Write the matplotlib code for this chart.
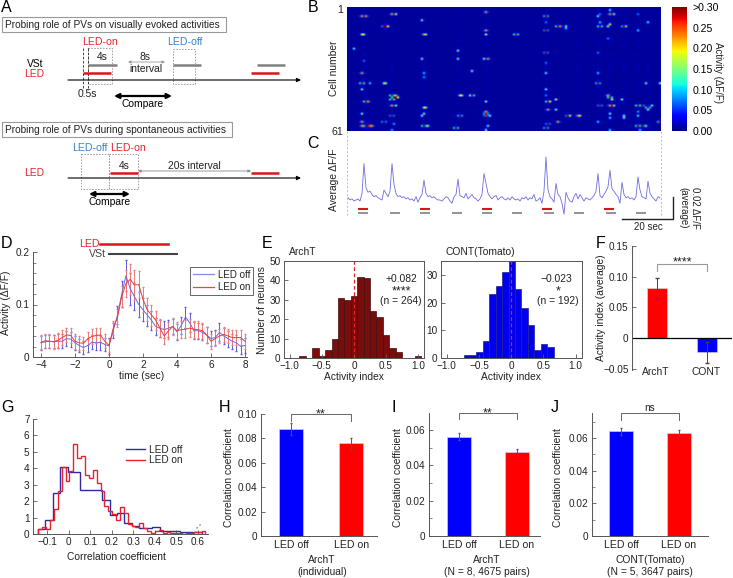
import numpy as np
import matplotlib
matplotlib.use("Agg")
import matplotlib.pyplot as plt
from matplotlib.patches import Rectangle

W, H = 733, 578

plt.rcParams['font.family'] = ['Liberation Sans', 'DejaVu Sans']
plt.rcParams['font.size'] = 7.2
plt.rcParams['axes.unicode_minus'] = True
plt.rcParams['text.color'] = '#222222'
plt.rcParams['axes.edgecolor'] = '#555555'
plt.rcParams['axes.linewidth'] = 0.7

BLUE = '#0000ff'
RED = '#ff0000'
SCHEME_RED = '#e8232a'
SCHEME_BLUE = '#3b82c4'
GRAY = '#808080'

# B: sparse activity map, (column, row, dF/F), everything else stays at background
heat_background = 0.008
hot_spots = [
    (7, 4, .15), (9, 4, .15), (22, 3, .15), (24, 3, .12), (18, 9, .2), (19, 9, .3), (20, 9, .12),
    (7, 13, .12), (8, 13, .1), (38, 13, .15), (39, 13, .1), (37, 6, .1), (69, 2, .15), (69, 11, .15),
    (69, 13, .12), (3, 20, .08), (55, 21, .1), (37, 25, .1), (55, 25, .1), (68, 25, .1), (70, 25, .15),
    (8, 26, .05), (7, 32, .15), (62, 31, .1), (38, 32, .07), (38, 34, .06), (7, 37, .3), (11, 37, .07),
    (18, 37, .12), (19, 37, .1), (7, 40, .1), (22, 43, .3), (23, 44, .3), (24, 44, .2), (25, 44, .12),
    (22, 45, .3), (24, 43, .15), (56, 43, .13), (57, 43, .1), (62, 43, .3), (61, 43, .1), (9, 46, .3),
    (10, 46, .15), (69, 46, .1), (22, 48, .15), (24, 48, .1), (38, 49, .12), (39, 49, .1), (7, 52, .1),
    (22, 53, .2), (38, 52, .1), (37, 53, .1), (56, 53, .25), (69, 51, .15), (69, 52, .25), (69, 53, .18),
    (71, 53, .1), (7, 56, .15), (7, 58, .15), (9, 58, .3), (10, 58, .3), (11, 58, .15), (12, 58, .15),
    (17, 56, .05), (19, 56, .05), (23, 57, .06), (38, 58, .3), (40, 58, .12), (54, 59, .3), (70, 58, .1),
    (22, 60, .06), (69, 60, .1),
    (99, 4, .25), (99, 7, .05), (99, 11, .2), (105, 9, .3), (106, 9, .15), (109, 9, .1), (109, 10, .07),
    (84, 13, .3), (99, 22, .2), (99, 27, .05), (99, 32, .1), (99, 40, .1), (99, 43, .05), (100, 46, .3),
    (101, 46, .12), (104, 45, .12), (100, 50, .15), (104, 50, .1), (110, 53, .2), (111, 53, .12),
    (115, 53, .15), (116, 53, .12), (105, 56, .15), (100, 57, .2), (99, 59, .25), (126, 3, .05),
    (125, 4, .1), (131, 1, .08), (131, 3, .15), (133, 3, .1), (126, 7, .07), (126, 9, .3), (130, 9, .12),
    (131, 8, .12), (138, 9, .25), (139, 9, .1), (145, 3, .05), (150, 7, .08), (145, 11, .07), (125, 22, .05),
    (130, 15, .05), (125, 32, .07), (125, 37, .25), (149, 37, .1), (156, 37, .1), (131, 44, .3), (130, 43, .15),
    (132, 45, .12), (137, 45, .1), (126, 48, .2), (131, 48, .15), (132, 48, .25), (133, 48, .1), (145, 48, .3),
    (147, 48, .2), (150, 49, .28), (152, 48, .1), (150, 50, .1), (138, 53, .1), (138, 54, .1), (131, 52, .1),
    (131, 54, .07), (145, 53, .08), (145, 51, .06), (125, 56, .07), (156, 56, .28), (145, 58, .3),
    (147, 58, .2), (149, 58, .1), (146, 60, .07), (131, 60, .07),
]
# faint blue flecks along the strongly driven frames
faint_cols = [8, 22, 38, 55, 69, 99, 115, 125, 131, 138, 145, 150]
faint_rows = [1, 6, 10, 16, 19, 23, 28, 30, 35, 39, 42, 47, 51, 55, 59]
faint_val = 0.022
cbar_ticks = [0.0, 0.05, 0.10, 0.15, 0.20, 0.25, 0.30]
cbar_labels = ['0.00', '0.05', '0.10', '0.15', '0.20', '0.25', '>0.30']

# C: population average, in 0.001 dF/F per frame
trace_milli = [
    2, 0, 1, -1, 0, 1, -1, 6, 33, 11, 7, 8, 5, 3, 4, 2, 1, 0, 9, 6,
    3, 8, 33, 14, 6, 3, 4, 2, 3, 1, 2, 0, 1, -1, 3, -2, 2, 5, 18, 6,
    3, 4, 2, 3, 1, 0, 0, -1, 1, 3, 2, -1, -3, 3, 5, 19, 4, 3, 2, 6,
    1, 3, 5, 2, 1, -1, 1, 5, 24, 15, 6, 3, 1, 3, 4, 0, 2, 3, 1, 0,
    2, 0, 3, 1, 0, 1, -1, 2, 1, 3, 0, 2, 1, 5, -1, 0, 2, -3, 8, 39,
    9, 3, 1, -2, 15, 5, 3, -3, -13, 7, 2, -1, -2, 3, 6, 1, 5, 2, -1, 2,
    1, 0, 2, 4, 8, 24, 4, 2, 5, 8, 12, 27, 10, 8, 5, 3, -3, 16, 5, 2,
    3, 1, 2, 0, 3, 21, 9, 3, 2, 1, 17, 6, 3, 1, -1, 3, 2,
]
led_frames = [5, 36, 67, 97, 128]
vst_frames = [5, 21, 36, 52, 67, 82, 98, 113, 129, 144]
stim_len = 5

# D
led_off = [.027, .029, .03, .029, .03, .03, .035, .034, .027, .022, .018, .022, .028, .027, .028, .024, .021,
           .05, .08, .12, .155, .13, .115, .1, .09, .08, .07, .058, .055, .052, .055, .058, .048, .06, .076,
           .065, .05, .05, .047, .042, .035, .037, .047, .04, .035, .03, .027, .02, .022]
led_off_err = [.013, .012, .012, .012, .013, .013, .014, .014, .013, .012, .012, .013, .013, .014, .014, .013, .015,
               .014, .018, .024, .03, .03, .026, .024, .022, .02, .018, .017, .016, .016, .016, .015, .015, .017, .02,
               .018, .016, .015, .015, .015, .014, .015, .017, .015, .015, .014, .015, .015, .014]
led_on = [.028, .031, .03, .029, .032, .037, .042, .041, .03, .027, .026, .035, .039, .041, .042, .03, .022,
          .055, .075, .115, .14, .148, .137, .138, .11, .09, .08, .07, .055, .04, .05, .058, .05, .052, .053,
          .055, .053, .052, .05, .042, .03, .035, .04, .043, .04, .037, .037, .037, .03]
led_on_err = [.013, .013, .013, .013, .014, .014, .014, .014, .014, .013, .013, .013, .014, .014, .014, .013, .013,
              .013, .017, .02, .026, .03, .028, .026, .024, .022, .02, .018, .017, .016, .016, .016, .016, .016, .017,
              .017, .016, .016, .015, .015, .014, .014, .014, .014, .014, .015, .015, .015, .014]

# E
arch_centers = [-.8, -.7, -.6, -.5, -.4, -.3, -.2, -.1, 0, .1, .2, .3, .4, .5, .6, .7, .8, .9, 1.0]
arch_counts = [1, 0, 5, 1, 4, 10, 31, 30, 32, 42, 41, 24, 21, 12, 5, 3, 0, 0, 1]
cont_centers = [-.69, -.59, -.49, -.39, -.29, -.19, -.09, .01, .11, .21, .31, .41, .51, .61]
cont_counts = [1, 1, 2, 6, 23, 26, 31, 35, 25, 18, 12, 3, 5, 4]

# F
index_names = ['ArchT', 'CONT']
index_vals = [0.081, -0.023]
index_err = [0.017, 0.017]

# G
on_start, on_step = -0.14, 0.018
on_hist = [.3, .45, .3, .85, 1.5, 2.6, 4.05, 3.2, 3.85, 5.45, 4.65, 4.75, 3.6, 3.4, 3.9, 3.1, 2.6, 1.7, 1.4, 1.2,
           .85, 1.65, 1.3, .6, .5, .45, .7, .35, .2, .05, .2, .25, .05, .1, .05, .05, .05, .02, .05, .05, .1, .1, .2]
off_edges = [-.142, -.108, -.074, -.038, -.005, .054, .155, .193, .224, .255, .294, .327, .386, .425, .517, .62]
off_hist = [.3, .85, 2.5, 4.05, 3.75, 2.65, 2.1, 1.15, 1.3, .65, .5, .35, .45, .2, .1]

# H, I, J
corr_names = ['LED off', 'LED on']
h_vals, h_err = [0.088, 0.076], [0.005, 0.0045]
i_vals, i_err = [0.0563, 0.0475], [0.002, 0.0018]
j_vals, j_err = [0.064, 0.063], [0.0022, 0.002]


def px_axes(fig, left, top, right, bottom):
    return fig.add_axes([left / W, 1 - bottom / H, (right - left) / W, (bottom - top) / H])


def style(ax, box=False):
    ax.tick_params(which='both', direction='in', colors='#555555', labelcolor='#222222', pad=2.5)
    ax.tick_params(which='major', length=3, width=0.6, labelsize=7.2)
    ax.tick_params(which='minor', length=1.8, width=0.5)
    ax.spines['top'].set_visible(box)
    ax.spines['right'].set_visible(box)


def corr_bars(ax, vals, errs, xlim, ylim, yticks, minor, labels, fmt, bracket, sig):
    ax.bar([0.5, 1.5], vals, width=0.41, color=[BLUE, RED], edgecolor='#c9c9ee', linewidth=0.5)
    ax.errorbar([0.5, 1.5], vals, yerr=errs, fmt='none', ecolor='#555555', elinewidth=0.7, capsize=1)
    ax.set_xlim(*xlim)
    ax.set_ylim(*ylim)
    ax.set_xticks([0.5, 1.5])
    ax.set_xticklabels(labels)
    ax.set_yticks(yticks)
    ax.set_yticklabels(fmt)
    ax.set_yticks(minor, minor=True)
    style(ax)
    ax.tick_params(axis='x', length=0, pad=3, labelsize=7.6)
    top, low = bracket
    ax.plot([0.5, 0.5, 1.5, 1.5], [low, top, top, low], color='#666666', lw=0.7, clip_on=False)
    ax.text(1.0, top, sig, ha='center', va='bottom' if sig == 'ns' else 'center',
            fontsize=7.2 if sig == 'ns' else 9, clip_on=False)


def build_heat():
    heat = np.full((61, 157), heat_background)
    for col in faint_cols:
        for row in faint_rows:
            heat[row, col] = faint_val
    # core pushed up because the bilinear resampling flattens single cells
    for col, row, val in hot_spots:
        for dc, dr, frac in [(0, 0, 1.5), (-1, 0, .35), (1, 0, .35), (0, -1, .12), (0, 1, .12)]:
            c, r = col + dc, row + dr
            if 0 <= c < 157 and 0 <= r < 61:
                heat[r, c] = max(heat[r, c], val * frac)
    return heat


def main():
    fig = plt.figure(figsize=(W / 100, H / 100), dpi=100)

    # B
    ax_b = px_axes(fig, 347, 7, 661, 131)
    im = ax_b.imshow(build_heat(), cmap='jet', vmin=0, vmax=0.3, aspect='auto', interpolation='bilinear')
    ax_b.set_xticks([])
    ax_b.set_yticks([])
    for s in ax_b.spines.values():
        s.set_visible(False)

    cax = px_axes(fig, 672, 7, 687, 131)
    cb = fig.colorbar(im, cax=cax)
    cb.set_ticks(cbar_ticks)
    cb.set_ticklabels(cbar_labels)
    cb.ax.tick_params(length=0, labelsize=7.6, pad=4)
    cb.outline.set_visible(False)

    # C
    ax_c = px_axes(fig, 347, 131, 661, 219)
    ax_c.plot(range(len(trace_milli)), trace_milli, color='#6c6ce4', lw=0.6)
    ax_c.hlines([-8] * len(led_frames), led_frames, [f + stim_len for f in led_frames],
                color='#d8141c', lw=1.5)
    ax_c.hlines([-12] * len(vst_frames), vst_frames, [f + stim_len for f in vst_frames],
                color=GRAY, lw=1.2)
    ax_c.set_xlim(-0.5, 156.5)
    ax_c.set_ylim(-17.3, 62.7)
    ax_c.axvline(-0.5, color='#bbbbbb', lw=0.7, ls=(0, (2, 2)), ymin=0.05, clip_on=False)
    ax_c.axvline(156.5, color='#bbbbbb', lw=0.7, ls=(0, (2, 2)), ymin=0.05, clip_on=False)
    ax_c.axis('off')

    # D
    ax_d = px_axes(fig, 33, 252, 247, 357)
    t = -4 + 0.25 * np.arange(len(led_on))
    ax_d.errorbar(t, led_off, yerr=led_off_err, color='#6a6ae6', ecolor='#5a5ae0', lw=0.7,
                  elinewidth=0.7, capsize=0.7)
    ax_d.errorbar(t, led_on, yerr=led_on_err, color='#ee3b3b', ecolor='#f07878', lw=0.7,
                  elinewidth=0.7, capsize=0.7)
    ax_d.set_xlim(-4.47, 8.12)
    ax_d.set_ylim(0, 0.2)
    ax_d.set_xticks([-4, -2, 0, 2, 4, 6, 8])
    ax_d.set_yticks([0, 0.1, 0.2])
    ax_d.set_yticklabels(['0', '0.1', '0.2'])
    ax_d.set_yticks(np.arange(0, 0.2, 0.02), minor=True)
    style(ax_d)
    ax_d.plot([-0.5, 3.5], [0.215, 0.215], color='#d8141c', lw=1.8, clip_on=False)
    ax_d.plot([0, 4], [0.196, 0.196], color='#444444', lw=1.5, clip_on=False)
    ax_d.text(-0.55, 0.215, 'LED', color=SCHEME_RED, ha='right', va='center', fontsize=7.6)
    ax_d.text(-0.15, 0.196, 'VSt', color='#444444', ha='right', va='center', fontsize=7.6)
    leg = ax_d.legend(handles=[plt.Line2D([], [], color='#8a8aee', lw=0.9), plt.Line2D([], [], color='#ee4444', lw=0.9)],
                      labels=['LED off', 'LED on'], loc='upper left', bbox_to_anchor=(157 / 214, 0.86),
                      borderaxespad=0, frameon=True, fancybox=False, edgecolor='#666666', framealpha=1,
                      fontsize=7, handlelength=2.2, labelspacing=0.25, borderpad=0.3, handletextpad=0.4)
    leg.get_frame().set_linewidth(0.7)

    # E
    ax_e1 = px_axes(fig, 284, 261, 424, 358)
    ax_e1.bar(arch_centers, arch_counts, width=0.1, color='#7a0c0c', edgecolor='#3a1010', linewidth=0.5)
    ax_e1.set_xlim(-1.09, 1.09)
    ax_e1.set_ylim(0, 50)
    ax_e1.set_yticks([0, 10, 20, 30, 40, 50])
    ax_e2 = px_axes(fig, 441, 261, 582, 358)
    ax_e2.bar(cont_centers, cont_counts, width=0.1, color='#0000ee', edgecolor='#202090', linewidth=0.5)
    ax_e2.set_xlim(-1.09, 1.1)
    ax_e2.set_ylim(0, 35)
    ax_e2.set_yticks([0, 10, 20, 30])
    for a in (ax_e1, ax_e2):
        a.axvline(0, color='#e8232a', lw=0.9, ls=(0, (3, 2)))
        a.set_xticks([-1, -0.5, 0, 0.5, 1])
        a.set_xticklabels(['−1.0', '−0.5', '0', '0.5', '1.0'])
        style(a, box=True)

    # F
    ax_f = px_axes(fig, 632, 246, 732, 370)
    ax_f.bar([0.5, 1.5], index_vals, width=0.4, color=[RED, BLUE], edgecolor='#d8d8f0', linewidth=0.4)
    ax_f.errorbar([0.5, 1.5], index_vals, yerr=index_err, fmt='none', ecolor='#444444', elinewidth=0.7, capsize=1.5)
    ax_f.axhline(0, color='black', lw=0.9)
    ax_f.set_xlim(0, 2)
    ax_f.set_ylim(-0.052, 0.15)
    ax_f.set_yticks([-0.05, 0, 0.05, 0.10, 0.15])
    ax_f.set_yticklabels(['−0.05', '0', '0.05', '0.10', '0.15'])
    ax_f.set_xticks([])
    style(ax_f)
    ax_f.spines['bottom'].set_visible(False)
    ax_f.plot([0.5, 0.5, 1.5, 1.5], [0.109, 0.12, 0.12, 0.109], color='#999999', lw=0.8)
    ax_f.text(1.0, 0.1235, '****', ha='center', va='center', fontsize=9)

    # G
    ax_g = px_axes(fig, 33, 419, 208, 534)
    on_edges = on_start + on_step * np.arange(len(on_hist) + 1)
    ax_g.stairs(off_hist, off_edges, color='#2c2ca0', lw=1.0)
    ax_g.stairs(on_hist, on_edges, color='#e8202f', lw=1.0)
    ax_g.set_xlim(-0.165, 0.646)
    ax_g.set_ylim(0, 7)
    ax_g.set_xticks([-0.1, 0, 0.1, 0.2, 0.3, 0.4, 0.5, 0.6])
    ax_g.set_xticklabels(['−0.1', '0', '0.1', '0.2', '0.3', '0.4', '0.5', '0.6'])
    ax_g.set_yticks(range(8))
    style(ax_g)
    ax_g.legend(handles=[plt.Line2D([], [], color='#2c2ca0', lw=1.0), plt.Line2D([], [], color='#e8202f', lw=1.0)],
                labels=['LED off', 'LED on'], loc='upper left', bbox_to_anchor=(93 / 175, 0.775), borderaxespad=0,
                frameon=False, fontsize=7.2, handlelength=1.9, labelspacing=0.05, handletextpad=0.4, borderpad=0)

    # H, I, J
    ax_h = px_axes(fig, 261, 414, 377, 536)
    corr_bars(ax_h, h_vals, h_err, (0, 1.93), (0, 0.10), [0, .02, .04, .06, .08, .10], [],
              corr_names, ['0', '0.02', '0.04', '0.06', '0.08', '0.10'], (0.1, 0.0945), '**')
    ax_i = px_axes(fig, 429, 413, 540, 536)
    corr_bars(ax_i, i_vals, i_err, (-0.017, 1.9), (0, 0.0696), [0, .02, .04, .06], [.01, .03, .05],
              corr_names, ['0', '0.02', '0.04', '0.06'], (0.0696, 0.066), '**')
    ax_j = px_axes(fig, 592, 413, 708, 536)
    corr_bars(ax_j, j_vals, j_err, (0, 2), (0, 0.0753), [0, .02, .04, .06], [.01, .03, .05, .07],
              corr_names, ['0', '0.02', '0.04', '0.06'], (0.0753, 0.0712), 'ns')

    # pixel overlay for the schematic in A and all loose labels
    ov = fig.add_axes([0, 0, 1, 1], zorder=10)
    ov.set_xlim(0, W)
    ov.set_ylim(H, 0)
    ov.axis('off')
    ov.patch.set_alpha(0)

    def txt(x, y, s, size=7.4, color='#222222', ha='center', rot=0):
        ov.text(x, y, s, fontsize=size, color=color, ha=ha, va='center', rotation=rot,
                rotation_mode='anchor')

    for letter, x, y in [('A', 6, 8), ('B', 313, 7), ('C', 313, 144), ('D', 6, 244), ('E', 267, 244),
                         ('F', 601, 244), ('G', 7, 407), ('H', 225, 407), ('I', 394, 407), ('J', 555, 407)]:
        txt(x, y, letter, size=11.5, color='black')

    def box(x0, y0, x1, y1, dotted=False):
        if dotted:
            ov.add_patch(Rectangle((x0, y0), x1 - x0, y1 - y0, fill=False, edgecolor='#999999', lw=0.7,
                                   ls=(0, (1.5, 1.5))))
        else:
            ov.add_patch(Rectangle((x0, y0), x1 - x0, y1 - y0, fill=False, edgecolor='#999999', lw=0.8))

    def harrow(x0, x1, y, color='black', lw=0.8, style_='-|>', scale=6):
        ov.annotate('', xy=(x1, y), xytext=(x0, y), annotation_clip=False,
                    arrowprops=dict(arrowstyle=style_, color=color, lw=lw, shrinkA=0, shrinkB=0,
                                    mutation_scale=scale))

    # A, top schematic
    box(1.5, 17, 226, 32)
    txt(5, 25, 'Probing role of PVs on visually evoked activities', ha='left', size=7.25)
    txt(100, 42, 'LED-on', color=SCHEME_RED, size=7.6)
    txt(185, 42, 'LED-off', color=SCHEME_BLUE, size=7.6)
    for x in (83, 88):
        ov.plot([x, x], [48, 90], color='#222222', lw=0.6, ls=(0, (3, 2)))
    box(88, 48, 111.5, 84, dotted=True)
    box(173, 49, 195, 84, dotted=True)
    txt(102, 57, '4s')
    txt(145, 57, '8s')
    txt(146, 69, 'interval')
    harrow(128, 165, 62, color='#999999', lw=0.6, style_='<|-|>', scale=4)
    ov.hlines([64.5] * 3, [88, 173, 257], [117, 201, 285], color=GRAY, lw=1.8)
    ov.hlines([73] * 2, [83, 251], [111, 279], color='#d8141c', lw=1.8)
    harrow(68, 301, 80)
    txt(43, 64, 'VSt', ha='right', color='black')
    txt(44, 74, 'LED', ha='right', color=SCHEME_RED)
    txt(87, 94, '0.5s')
    harrow(114, 172, 96, lw=1.6, style_='<|-|>', scale=7)
    txt(143, 104, 'Compare', color='black')

    # A, bottom schematic
    box(1.5, 122, 232, 137)
    txt(5, 130, 'Probing role of PVs during spontaneous activities', ha='left', size=7.25)
    txt(90, 148, 'LED-off', color=SCHEME_BLUE, size=7.6)
    txt(128, 148, 'LED-on', color=SCHEME_RED, size=7.6)
    box(81, 154, 109, 189, dotted=True)
    box(109, 154, 137.5, 189, dotted=True)
    txt(124, 166, '4s')
    txt(194, 166, '20s interval')
    ov.hlines([173] * 2, [110, 251], [138, 279], color='#d8141c', lw=1.8)
    harrow(138, 251, 171, color='#888888', lw=0.6, style_='<|-|>', scale=4)
    harrow(68, 301, 178)
    txt(44, 173, 'LED', ha='right', color=SCHEME_RED)
    harrow(89, 130, 194, lw=1.6, style_='<|-|>', scale=7)
    txt(110, 202, 'Compare', color='black')

    # B, C labels
    txt(340, 10, '1', size=7.6)
    txt(337, 132, '61', size=7.6)
    txt(334, 68, 'Cell number', rot=90)
    txt(334, 180, 'Average ΔF/F', rot=90)
    txt(718, 72, 'Activity (ΔF/F)', rot=270, size=7)
    ov.plot([622, 673, 673], [219, 219, 197], color='#222222', lw=1.0)
    txt(648, 227, '20 sec', size=7)
    txt(695, 208, '0.02 ΔF/F', rot=270, size=7)
    txt(683, 208, '(average)', rot=270, size=7)

    # D labels
    txt(6, 303, 'Activity (ΔF/F)', rot=90)
    txt(142, 376, 'time (sec)')

    # E labels
    txt(262, 310, 'Number of neurons', rot=90)
    txt(289, 252, 'ArchT', ha='left')
    txt(446, 252, 'CONT(Tomato)', ha='left')
    txt(401, 279, '+0.082')
    txt(401, 291, '****', size=9)
    txt(401, 301, '(n = 264)')
    txt(556, 279, '−0.023')
    txt(558, 291, '*', size=9)
    txt(558, 301, '(n = 192)')
    txt(354, 377, 'Activity index')
    txt(511, 377, 'Activity index')

    # F labels
    txt(601, 308, 'Activity index (average)', rot=90)
    txt(656, 372, index_names[0])
    txt(706, 372, index_names[1])

    # G labels
    txt(116, 557, 'Correlation coefficient')
    ov.text(196.5, 529, '*', color='#2c2ca0', fontsize=4, ha='center', va='center')
    ov.text(200, 526, '*', color='#e8202f', fontsize=4, ha='center', va='center')

    # H, I, J labels
    for x in (229, 398, 558):
        txt(x, 478, 'Correlation coefficient', rot=90)
    txt(322, 560, 'ArchT')
    txt(322, 572, '(individual)')
    txt(487, 560, 'ArchT')
    txt(487, 572, '(N = 8, 4675 pairs)')
    txt(650, 560, 'CONT(Tomato)')
    txt(650, 572, '(N = 5, 3647 pairs)')

    fig.savefig('out.png', dpi=100)


if __name__ == "__main__":
    main()
